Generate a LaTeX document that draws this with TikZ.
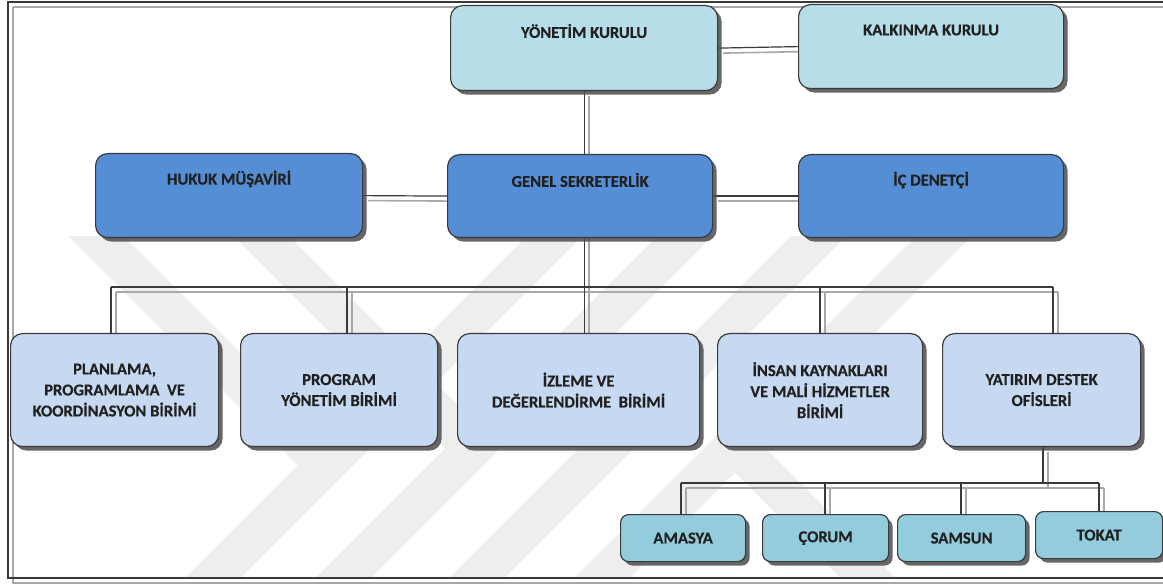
\documentclass[tikz,border=0pt]{standalone}
\usepackage{fontspec}
\setmainfont{Carlito}
\newfontfamily\chartfont[UprightFeatures={FakeBold=0.4}, BoldFeatures={FakeBold=0.4}]{Carlito}
\usetikzlibrary{shadows}

\definecolor{boardfill}{HTML}{B7DDE8}
\definecolor{secfill}{HTML}{558ED5}
\definecolor{unitfill}{HTML}{C6D9F1}
\definecolor{officefill}{HTML}{93CDDD}
\definecolor{edgecol}{HTML}{3A3A3A}
\definecolor{inkcol}{HTML}{202020}
\definecolor{lineshade}{HTML}{A8A8A8}
\definecolor{markcol}{HTML}{EEEEEE}

\pgfdeclarelayer{marklayer}
\pgfdeclarelayer{shadelayer}
\pgfdeclarelayer{wirelayer}
\pgfsetlayers{marklayer,shadelayer,wirelayer,main}

\tikzset{
  chartfontsize/.style={font=\chartfont\bfseries\fontsize{16.6}{21}\selectfont},
  box/.style={draw=edgecol, line width=1.2pt, rounded corners=12pt,
    anchor=north west, inner sep=0pt, text=inkcol, chartfontsize, align=center,
    drop shadow={shadow xshift=4pt, shadow yshift=-4pt,
      fill=black!70, opacity=0.85}},
  board/.style={box, fill=boardfill},
  sec/.style={box, fill=secfill},
  unit/.style={box, fill=unitfill},
  office/.style={box, fill=officefill, rounded corners=8pt},
  toptext/.style={label={[anchor=center, yshift=-26pt, text=inkcol,
    chartfontsize]north:#1}},
  wire/.style={draw=edgecol, line width=1.2pt},
  shade/.style={draw=lineshade, line width=1.6pt,
    transform canvas={shift={(5pt,-5pt)}}},
  band/.style={draw=markcol, line width=39pt, line join=miter},
}

% every connector of the chart, drawn once per pass with the given style
\newcommand{\chartwires}[1]{%
  \draw[#1] (yk.east) -- (kk.west);
  \draw[#1] (yk.south) -- (yk.south |- iz.north);
  \draw[#1] (hm.east) -- (gs.west);
  \draw[#1] (gs.east) -- (id.west);
  \draw[#1] (busL) -- (busR);
  \draw[#1] (busL) -- (busL |- pl.north);
  \draw[#1] (jpr) -- (jpr |- pr.north);
  \draw[#1] (jin) -- (jin |- in.north);
  \draw[#1] (busR) -- (busR |- ya.north);
  \draw[#1] (ya.south -| ofT) -- (ofT);
  \draw[#1] (ofL) -- (ofR);
  \draw[#1] (ofL) -- (ofL |- am.north);
  \draw[#1] (jco) -- (jco |- co.north);
  \draw[#1] (jsa) -- (jsa |- sa.north);
  \draw[#1] (ofR) -- (ofR |- to.north);
}

\begin{document}
\begin{tikzpicture}[x=1pt, y=-1pt]
\useasboundingbox (0,0) rectangle (1163,585);

% faint background watermark bands
\begin{pgfonlayer}{marklayer}
  \begin{scope}
    \clip (8,237) rectangle (1163,578);
    \draw[band] (180,611) -- (600,191);
    \draw[band] (40,180) -- (325,465);
    \draw[band] (300,621) -- (740,181);
    \draw[band] (205,180) -- (473,448);
    \draw[band] (440,615) -- (870,185);
    \draw[band] (560,620) -- (995,185);
    \draw[band] (735,445) -- (900,610);
  \end{scope}
\end{pgfonlayer}

% outer frame with its offset shade
\draw[lineshade, line width=1.6pt] (13,7) -- (1170,7);
\draw[lineshade, line width=1.6pt] (13,7) -- (13,583) -- (1170,583);
\draw[edgecol, line width=1.5pt] (1170,2) -- (8,2) -- (8,578) -- (1170,578);

% top board
\node[board, minimum width=267pt, minimum height=85pt, toptext={YÖNETİM KURULU}] (yk) at (450,5) {};
\node[board, minimum width=265pt, minimum height=84pt, toptext={KALKINMA KURULU}] (kk) at (798,4) {};

% secretariat row
\node[sec, minimum width=267pt, minimum height=84pt, toptext={HUKUK MÜŞAVİRİ}] (hm) at (95,153) {};
\node[sec, minimum width=265pt, minimum height=83pt, toptext={GENEL SEKRETERLİK}] (gs) at (447,154) {};
\node[sec, minimum width=265pt, minimum height=83pt, toptext={İÇ DENETÇİ}] (id) at (798,154) {};

% units
\node[unit, minimum width=208pt, minimum height=113pt] (pl) at (10,333)
  {PLANLAMA,\\PROGRAMLAMA\ \ VE\\KOORDİNASYON BİRİMİ};
\node[unit, minimum width=197pt, minimum height=113pt] (pr) at (240,333)
  {PROGRAM\\YÖNETİM BİRİMİ};
\node[unit, minimum width=242pt, minimum height=113pt] (iz) at (457,333)
  {İZLEME VE\\DEĞERLENDİRME\ \ BİRİMİ};
\node[unit, minimum width=205pt, minimum height=113pt] (in) at (717,333)
  {İNSAN KAYNAKLARI\\VE MALİ HİZMETLER\\BİRİMİ};
\node[unit, minimum width=198pt, minimum height=113pt] (ya) at (942,333)
  {YATIRIM DESTEK\\OFİSLERİ};

% investment support offices
\node[office, minimum width=125pt, minimum height=47pt] (am) at (620,514) {AMASYA};
\node[office, minimum width=126pt, minimum height=47pt] (co) at (762,514) {ÇORUM};
\node[office, minimum width=128pt, minimum height=47pt] (sa) at (897,514) {SAMSUN};
\node[office, minimum width=127pt, minimum height=47pt] (to) at (1035,511) {TOKAT};

% junction points of the bus lines
\coordinate (busL) at (111,287);
\coordinate (busR) at (1053,287);
\coordinate (jpr) at (347,287);
\coordinate (jin) at (820,287);
\coordinate (ofL) at (681,483);
\coordinate (ofR) at (1099,483);
\coordinate (ofT) at (1043,483);
\coordinate (jco) at (825,483);
\coordinate (jsa) at (961,483);

\begin{pgfonlayer}{shadelayer}
  \chartwires{shade}
\end{pgfonlayer}
\begin{pgfonlayer}{wirelayer}
  \chartwires{wire}
\end{pgfonlayer}
\end{tikzpicture}
\end{document}
